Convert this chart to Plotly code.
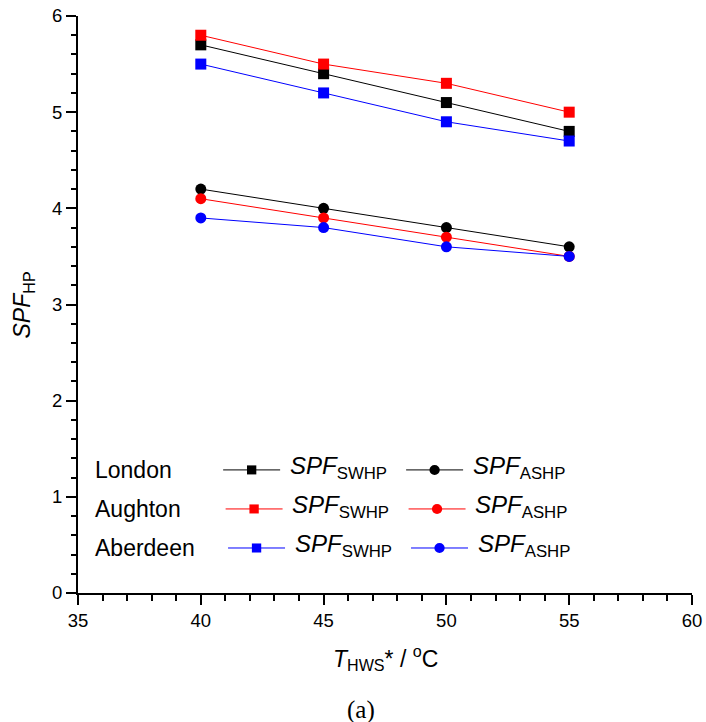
import plotly.graph_objects as go

# ---- data ----
t_hws = [40, 45, 50, 55]
cities = ["London", "Aughton", "Aberdeen"]
colors = ["#000000", "#ff0000", "#0000ff"]
spf_swhp = {
    "London":   [5.7, 5.4, 5.1, 4.8],
    "Aughton":  [5.8, 5.5, 5.3, 5.0],
    "Aberdeen": [5.5, 5.2, 4.9, 4.7],
}
spf_ashp = {
    "London":   [4.2, 4.0, 3.8, 3.6],
    "Aughton":  [4.1, 3.9, 3.7, 3.5],
    "Aberdeen": [3.9, 3.8, 3.6, 3.5],
}
x_ticks = [35, 40, 45, 50, 55, 60]
y_ticks = [0, 1, 2, 3, 4, 5, 6]

FONT = "Liberation Sans, Arial, sans-serif"
SERIF = "Liberation Serif, Times New Roman, serif"

fig = go.Figure()
for city, col in zip(cities, colors):
    fig.add_trace(go.Scatter(
        x=t_hws, y=spf_swhp[city], mode="lines+markers",
        line=dict(color=col, width=1),
        marker=dict(symbol="square", size=11, color=col),
        showlegend=False, name=city + " SWHP"))
for city, col in zip(cities, colors):
    fig.add_trace(go.Scatter(
        x=t_hws, y=spf_ashp[city], mode="lines+markers",
        line=dict(color=col, width=1),
        marker=dict(symbol="circle", size=11, color=col),
        showlegend=False, name=city + " ASHP"))

# ---- manual legend (layout shapes/annotations, in data units) ----
row_y = [1.28, 0.874, 0.468]
col_line = [(40.91, 43.23), (48.36, 50.68)]
col_text = [43.55, 51.0]
labels = ["<i>SPF</i><sub>SWHP</sub>", "<i>SPF</i><sub>ASHP</sub>"]
hx, hy = 0.19, 0.047
for i, (city, col) in enumerate(zip(cities, colors)):
    y = row_y[i]
    dx = 0.1 * i
    fig.add_annotation(x=35.62, y=y, text=city, showarrow=False, xanchor="left",
                       yanchor="middle", font=dict(family=FONT, size=23, color="black"))
    for j in range(2):
        x0, x1 = col_line[j]
        x0 += dx
        x1 += dx
        xm = (x0 + x1) / 2
        fig.add_shape(type="line", x0=x0, x1=x1, y0=y, y1=y,
                      line=dict(color=col, width=1))
        if j == 0:
            fig.add_shape(type="rect", x0=xm - hx, x1=xm + hx, y0=y - hy, y1=y + hy,
                          fillcolor=col, line=dict(width=0))
        else:
            fig.add_shape(type="circle", x0=xm - 1.1 * hx, x1=xm + 1.1 * hx,
                          y0=y - 1.1 * hy, y1=y + 1.1 * hy,
                          fillcolor=col, line=dict(width=0))
        fig.add_annotation(x=col_text[j] + dx, y=y + 0.03, text=labels[j], showarrow=False,
                           xanchor="left", yanchor="middle",
                           font=dict(family=FONT, size=24, color="black"))

# axis titles and caption as annotations
fig.add_annotation(x=0.5, y=-0.1127, xref="paper", yref="paper", yanchor="middle",
                   text="<i>T</i><sub>HWS</sub>* / <sup>o</sup>C", showarrow=False,
                   font=dict(family=FONT, size=23, color="black"))
fig.add_annotation(x=-0.088, y=0.5, xref="paper", yref="paper", xanchor="center",
                   yanchor="middle", textangle=-90,
                   text="<i>SPF</i><sub>HP</sub>", showarrow=False,
                   font=dict(family=FONT, size=23, color="black"))
fig.add_annotation(x=0.461, y=-0.2028, xref="paper", yref="paper", yanchor="middle",
                   text="(a)", showarrow=False,
                   font=dict(family=SERIF, size=25, color="black"))

axis_common = dict(showgrid=False, zeroline=False, showline=True, linecolor="black",
                   linewidth=2, ticks="outside", ticklen=10, tickwidth=1.5,
                   tickcolor="black", tickfont=dict(family=FONT, size=18.5, color="black"),
                   mirror=False, automargin=False, ticklabeloverflow="allow")
fig.update_xaxes(range=[35, 60], tickvals=x_ticks, ticktext=[str(v) for v in x_ticks],
                 minor=dict(dtick=1, ticks="outside", ticklen=6, tickcolor="black", tickwidth=1.5),
                 **axis_common)
fig.update_yaxes(range=[0, 6], tickvals=y_ticks, ticktext=[str(v) for v in y_ticks],
                 minor=dict(dtick=0.2, ticks="outside", ticklen=5, tickcolor="black", tickwidth=1.5),
                 **axis_common)

fig.update_layout(width=706, height=722, plot_bgcolor="white", paper_bgcolor="white",
                  margin=dict(l=78, r=14, t=16, b=129), showlegend=False)
# remove the browser's default 8px body margin so the figure fills the window exactly
fig.write_html("out.html", config={"displayModeBar": False},
               post_script="document.body.style.margin='0px';document.body.style.overflow='hidden';")
